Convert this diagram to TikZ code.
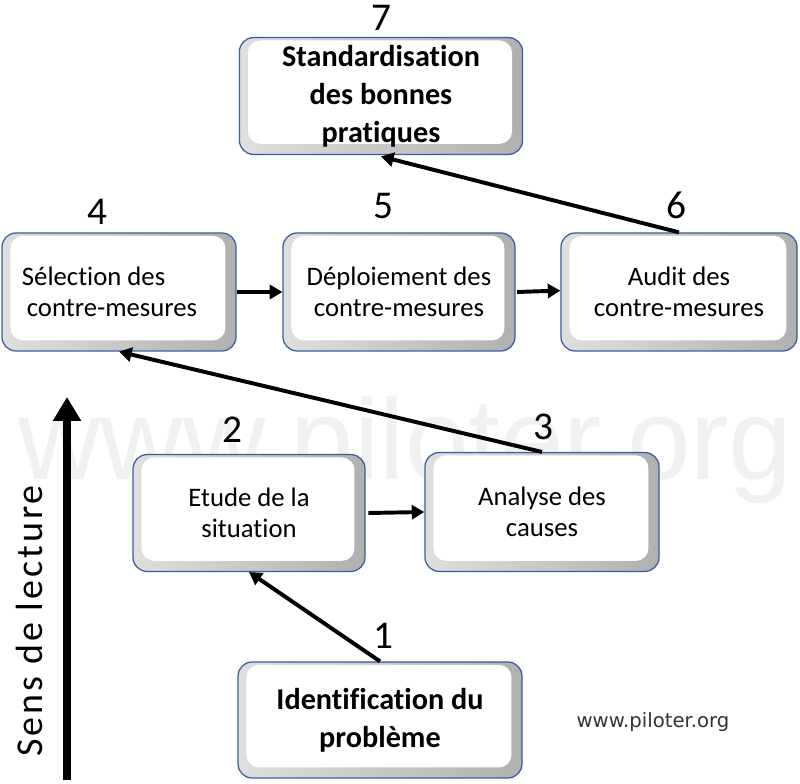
\documentclass[tikz,border=0pt]{standalone}
\usepackage{fontspec}
\setmainfont{Carlito}[Ligatures=NoCommon]
\newfontfamily\dejavu{DejaVu Sans}
\newfontfamily\liberation{Liberation Sans}
\newfontfamily\manuscrit{Carlito}[LetterSpace=8, Ligatures=NoCommon]
\usepackage{tikz}
\usetikzlibrary{arrows.meta}

\definecolor{bordbleu}{HTML}{3A5E9E}
\definecolor{filigrane}{HTML}{F1F1F1}

\begin{document}
\begin{tikzpicture}[
    etape/.style={draw=bordbleu, line width=0.9pt, rounded corners=10pt,
        minimum width=5.85cm, minimum height=2.95cm, align=center,
        font=\fontsize{19}{22}\selectfont,
        path picture={
            \shade[left color=gray!25, right color=gray!62]
                (path picture bounding box.south west) rectangle (path picture bounding box.north east);
            \fill[white, rounded corners=9pt]
                ([xshift=6pt,yshift=7.5pt]path picture bounding box.south west) rectangle
                ([xshift=-7.5pt,yshift=-2pt]path picture bounding box.north east);
        }},
    etapegras/.style={etape, minimum width=7.08cm, minimum height=2.92cm,
        font=\fontsize{21.5}{27}\selectfont\bfseries},
    numero/.style={font=\fontsize{28}{28}\selectfont, inner sep=0pt},
    fleche/.style={line width=2.8pt, -{Triangle[length=9pt,width=10pt]}}
    ]
    \useasboundingbox (0,0) rectangle (20,19.6);

    % filigrane en fond
    \node[font=\fontsize{82}{82}\selectfont\liberation, text=filigrane,
        anchor=base west, inner sep=0pt, xscale=0.99, transform shape] (wm) at (0.45,7.6) {www.piloter.org};

    % les sept etapes
    \node[etapegras] (b7) at (9.525,17.2) {Standardisation\\des bonnes\\pratiques};
    \node[etape, align=left] (b4) at (2.975,12.3) {Sélection des\\\hspace*{3.5pt}contre-mesures\hspace*{13.5pt}};
    \node[etape, minimum width=5.8cm] (b5) at (9.975,12.3) {Déploiement des\\contre-mesures};
    \node[etape, minimum width=5.9cm] (b6) at (16.975,12.3) {Audit des\\contre-mesures};
    \node[etape, minimum width=5.8cm, minimum height=2.92cm] (b2) at (6.225,6.775) {Etude de la\\situation};
    \node[etape, minimum height=2.97cm] (b3) at (13.55,6.8) {Analyse des\\causes};
    \node[etapegras, minimum width=7.1cm, minimum height=2.9cm] (b1) at (9.5,1.6) {Identification du\\problème};

    % numeros
    \node[numero] (n7) at (9.525,19.15) {7};
    \node[numero] (n4) at (2.425,14.3) {4};
    \node[numero] (n5) at (9.575,14.45) {5};
    \node[numero] (n6) at (16.9,14.475) {6};
    \node[numero] (n2) at (5.8,8.85) {2};
    \node[numero] (n3) at (13.575,8.925) {3};
    \node[numero] (n1) at (9.575,3.7) {1};

    % enchainement
    \draw[fleche] (b1.north) -- (b2.south);
    \draw[fleche] ([xshift=2pt]b2.east) -- (b3.west);
    \draw[fleche] (b3.north) -- (b4.south);
    \draw[fleche] (b4.east) -- (b5.west);
    \draw[fleche] ([xshift=1pt]b5.east) -- ([yshift=1pt]b6.west);
    \draw[fleche] (b6.north) -- ([yshift=-1pt]b7.south);

    % sens de lecture
    \coordinate (bas) at (1.675,0.1);
    \coordinate (haut) at (1.675,9.675);
    \draw[line width=5.7pt, -{Triangle[length=17pt,width=19pt]}] (bas) -- (haut);
    \node[rotate=90, anchor=base, font=\fontsize{27}{27}\selectfont\manuscrit, inner sep=0pt] (sens) at (1.075,4.075) {Sens de lecture};

    \node[font=\fontsize{14}{14}\selectfont\dejavu, text=black!80] (site) at (16.325,1.55) {www.piloter.org};
\end{tikzpicture}
\end{document}
